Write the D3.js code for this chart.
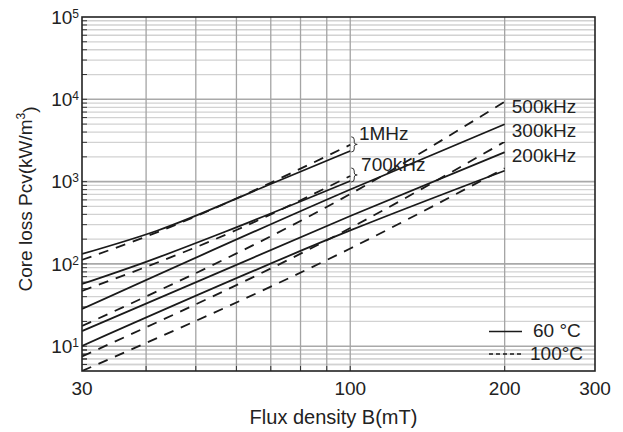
<!DOCTYPE html>
<html>
<head>
<meta charset="utf-8">
<script src="https://cdn.jsdelivr.net/npm/d3@7/dist/d3.min.js"></script>
<style>
  html, body { margin: 0; padding: 0; background: #fff; }
  svg { display: block; }
  text { font-family: "Liberation Sans", Arial, Helvetica, sans-serif; fill: #222; }
</style>
</head>
<body>
<div id="chart"></div>
<script>
// ---- data ----
const bDomain = [30, 300];            // Flux density B (mT)
const pDomain = [5, 1e5];             // Core loss Pcv (kW/m3)
const xTickValues = [30, 100, 200, 300];
const xGridValues = [40, 50, 60, 70, 80, 90, 100, 200];
const yDecades = [10, 100, 1000, 10000, 100000];
const yExponents = ["1", "2", "3", "4", "5"];

// 1MHz
const b_1M_60 = [30, 42, 70, 100];
const p_1M_60 = [132, 253, 936, 2356];
const b_1M_100 = [30, 40, 100];
const p_1M_100 = [112, 215, 2800];
// 700kHz
const b_700k_60 = [30, 40, 57, 100];
const p_700k_60 = [57, 106, 246, 1018];
const b_700k_100 = [30, 60, 100];
const p_700k_100 = [47, 258, 1171];
// 500kHz / 300kHz / 200kHz
const b_low = [30, 100, 200];
const p_500k_60 = [28.3, 802, 4973];
const p_500k_100 = [17.6, 707, 9359];
const p_300k_60 = [15.3, 382, 2272];
const p_300k_100 = [7.5, 273, 3057];
const p_200k_60 = [10.1, 255, 1357];
const p_200k_100 = [5.0, 154, 1452];

const freqLabels = ["1MHz", "700kHz", "500kHz", "300kHz", "200kHz"];
const freqLabelB = [104, 105, 206.5, 206.5, 206.5];
const freqLabelP = [3900, 1615, 8180, 4240, 2106];
const legendLabels = ["60 \u00B0C", "100\u00B0C"];

// ---- layout ----
const W = 623, H = 432;
const m = { left: 82, right: 28, top: 17, bottom: 61 };
const iw = W - m.left - m.right, ih = H - m.top - m.bottom;

const svg = d3.select("#chart").append("svg").attr("width", W).attr("height", H);
const x = d3.scaleLog().domain(bDomain).range([m.left, m.left + iw]);
const y = d3.scaleLog().domain(pDomain).range([m.top + ih, m.top]);

svg.append("clipPath").attr("id", "clip").append("rect")
  .attr("x", m.left).attr("y", m.top).attr("width", iw).attr("height", ih);

// horizontal grid: minor and decade lines
const minorY = [];
for (let d = 1; d <= 1e4; d *= 10) for (let k = 1; k <= 9; k++) {
  const v = d * k; if (v > pDomain[0] && v < pDomain[1] && k !== 1) minorY.push(v);
}
[6,7,8,9].forEach(v => minorY.push(v));
svg.append("g").selectAll("line").data(minorY).join("line")
  .attr("x1", m.left).attr("x2", m.left + iw)
  .attr("y1", d => y(d)).attr("y2", d => y(d))
  .attr("stroke", "#d2d2d2").attr("stroke-width", 1.3);
svg.append("g").selectAll("line").data(yDecades.slice(0, 4)).join("line")
  .attr("x1", m.left).attr("x2", m.left + iw)
  .attr("y1", d => y(d)).attr("y2", d => y(d))
  .attr("stroke", "#a9a9a9").attr("stroke-width", 1.6);
// vertical grid
svg.append("g").selectAll("line").data(xGridValues).join("line")
  .attr("x1", d => x(d)).attr("x2", d => x(d))
  .attr("y1", m.top).attr("y2", m.top + ih)
  .attr("stroke", "#a4a4a4").attr("stroke-width", 1.3);

// inward ticks
svg.append("g").selectAll("line").data(minorY.concat(yDecades.slice(0, 4))).join("line")
  .attr("x1", m.left).attr("x2", m.left + 5)
  .attr("y1", d => y(d)).attr("y2", d => y(d))
  .attr("stroke", "#333").attr("stroke-width", 1);
svg.append("g").selectAll("line").data(xGridValues).join("line")
  .attr("x1", d => x(d)).attr("x2", d => x(d))
  .attr("y1", m.top + ih).attr("y2", m.top + ih - 5)
  .attr("stroke", "#333").attr("stroke-width", 1);

// series
const series = [
  { b: b_1M_60, p: p_1M_60, dash: false },
  { b: b_1M_100, p: p_1M_100, dash: true },
  { b: b_700k_60, p: p_700k_60, dash: false },
  { b: b_700k_100, p: p_700k_100, dash: true },
  { b: b_low, p: p_500k_60, dash: false },
  { b: b_low, p: p_500k_100, dash: true },
  { b: b_low, p: p_300k_60, dash: false },
  { b: b_low, p: p_300k_100, dash: true },
  { b: b_low, p: p_200k_60, dash: false },
  { b: b_low, p: p_200k_100, dash: true },
];
const line = d3.line().x(d => x(d[0])).y(d => y(d[1])).curve(d3.curveMonotoneX);
svg.append("g").attr("clip-path", "url(#clip)").selectAll("path").data(series).join("path")
  .attr("d", s => line(s.b.map((b, i) => [b, s.p[i]])))
  .attr("fill", "none").attr("stroke", "#1a1a1a").attr("stroke-width", 1.8)
  .attr("stroke-dasharray", s => s.dash ? "10,8" : null);

// braces at 100 mT for 1MHz and 700kHz
function brace(x0, y1, y2) {
  const ym = (y1 + y2) / 2;
  return `M${x0},${y1} Q${x0+3},${y1} ${x0+3},${y1+3} L${x0+3},${ym-2} Q${x0+3},${ym} ${x0+6},${ym}` +
         ` Q${x0+3},${ym} ${x0+3},${ym+2} L${x0+3},${y2-3} Q${x0+3},${y2} ${x0},${y2}`;
}
const braceData = [
  [y(p_1M_100[p_1M_100.length - 1]) - 8, y(p_1M_60[p_1M_60.length - 1]) + 1],
  [y(p_700k_100[p_700k_100.length - 1]) - 8, y(p_700k_60[p_700k_60.length - 1]) + 1],
];
svg.append("g").selectAll("path").data(braceData).join("path")
  .attr("d", d => brace(x(100) + 1, d[0], d[1]))
  .attr("fill", "none").attr("stroke", "#333").attr("stroke-width", 1);

// frequency labels
svg.append("g").selectAll("text").data(freqLabels).join("text")
  .attr("x", (d, i) => x(freqLabelB[i]))
  .attr("y", (d, i) => y(freqLabelP[i]))
  .attr("dy", "0.36em")
  .attr("font-size", 19)
  .text(d => d);

// frame
svg.append("rect").attr("x", m.left).attr("y", m.top).attr("width", iw).attr("height", ih)
  .attr("fill", "none").attr("stroke", "#222").attr("stroke-width", 1.6);

// x tick labels
svg.append("g").selectAll("text").data(xTickValues).join("text")
  .attr("x", d => x(d)).attr("y", m.top + ih + 24)
  .attr("text-anchor", "middle").attr("font-size", 19)
  .text(d => d);

// y tick labels 10^n
const yt = svg.append("g").selectAll("text").data(yDecades).join("text")
  .attr("x", m.left - 3).attr("y", d => y(d))
  .attr("dy", "0.36em").attr("text-anchor", "end").attr("font-size", 19);
yt.append("tspan").text("10");
yt.append("tspan").attr("dy", "-0.5em").attr("font-size", 12).text((d, i) => yExponents[i]);

// axis titles
svg.append("text").attr("x", m.left + iw / 2 - 5).attr("y", H - 8)
  .attr("text-anchor", "middle").attr("font-size", 20).text("Flux density B(mT)");
const yTitle = svg.append("text").attr("transform", `translate(32,${m.top + ih / 2 + 5}) rotate(-90)`)
  .attr("text-anchor", "middle").attr("font-size", 19);
yTitle.append("tspan").text("Core loss Pcv(kW/m");
yTitle.append("tspan").attr("dy", "-0.55em").attr("font-size", 12).text("3");
yTitle.append("tspan").attr("dy", "0.55em").text(")");

// legend
const lg = svg.append("g");
const lgY = [331.5, 354];
lg.selectAll("line").data(legendLabels).join("line")
  .attr("x1", 489).attr("x2", 522)
  .attr("y1", (d, i) => lgY[i]).attr("y2", (d, i) => lgY[i])
  .attr("stroke", "#1a1a1a").attr("stroke-width", 1.5)
  .attr("stroke-dasharray", (d, i) => i === 1 ? "4,3" : null);
lg.selectAll("text").data(legendLabels).join("text")
  .attr("x", (d, i) => i === 0 ? 533 : 530)
  .attr("y", (d, i) => lgY[i] - 1)
  .attr("dy", "0.36em").attr("font-size", 19)
  .text(d => d);
</script>
</body>
</html>
